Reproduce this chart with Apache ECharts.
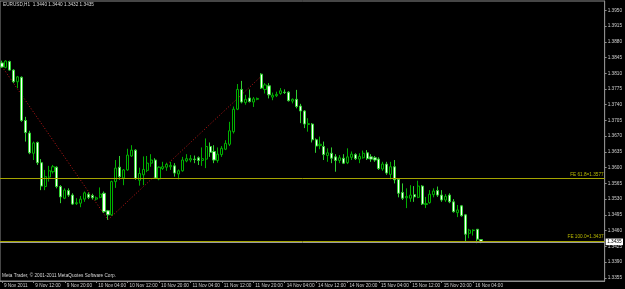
<!DOCTYPE html>
<html><head><meta charset="utf-8">
<script src="https://cdn.jsdelivr.net/npm/echarts@6/dist/echarts.min.js"></script>
<style>html,body{margin:0;padding:0;background:#000;}#c{width:625px;height:289px;}</style>
</head><body><div id="c"></div>
<script>
const titleText = 'EURUSD,H1  1.3440 1.3440 1.3432 1.3435';
const copyrightText = 'Meta Trader, \u00a9 2001-2011 MetaQuotes Software Corp.';
const tickLabels = ['9 Nov 2011','9 Nov 12:00','9 Nov 20:00','10 Nov 04:00','10 Nov 12:00','10 Nov 20:00','11 Nov 04:00','11 Nov 12:00','11 Nov 20:00','14 Nov 04:00','14 Nov 12:00','14 Nov 20:00','15 Nov 04:00','15 Nov 12:00','15 Nov 20:00','16 Nov 04:00'];
const priceTicks = [1.3950,1.3915,1.3880,1.3845,1.3810,1.3775,1.3740,1.3705,1.3670,1.3635,1.3600,1.3565,1.3530,1.3495,1.3460,1.3425,1.3390,1.3355];
const barSlots = 154;
const opens = [1.3833,1.3823,1.3836,1.3817,1.3791,1.3801,1.3705,1.3677,1.3632,1.3656,1.3611,1.3558,1.3579,1.3591,1.3601,1.3558,1.3532,1.3549,1.3539,1.3520,1.3521,1.3530,1.3541,1.3538,1.3530,1.3534,1.3543,1.3504,1.3495,1.3569,1.3601,1.3577,1.3595,1.3626,1.3639,1.3572,1.3584,1.3594,1.3610,1.3617,1.3575,1.3598,1.3601,1.3602,1.3604,1.3586,1.3593,1.3615,1.3617,1.3619,1.3622,1.3616,1.3619,1.3647,1.3636,1.3616,1.3629,1.3641,1.3652,1.3680,1.3730,1.3774,1.3745,1.3755,1.3746,1.3752,1.3808,1.3774,1.3782,1.3757,1.3760,1.3765,1.3768,1.3768,1.3748,1.3752,1.3737,1.3726,1.3696,1.3697,1.3662,1.3649,1.3647,1.3627,1.3632,1.3624,1.3616,1.3621,1.3611,1.3623,1.3629,1.3619,1.3622,1.3633,1.3624,1.3622,1.3619,1.3597,1.3608,1.3585,1.3602,1.3574,1.3545,1.3533,1.3532,1.3540,1.3534,1.3559,1.3518,1.3522,1.3540,1.3549,1.3539,1.3528,1.3539,1.3524,1.3500,1.3515,1.3495,1.3454,1.3460,1.3463,1.3440];
const highs = [1.3838,1.3839,1.3838,1.3819,1.3804,1.3803,1.3713,1.3682,1.3658,1.3658,1.3619,1.3595,1.3604,1.3606,1.3603,1.3561,1.3554,1.3554,1.3543,1.3532,1.3537,1.3547,1.3545,1.3542,1.3536,1.3556,1.3547,1.3506,1.3571,1.3617,1.3626,1.3597,1.3642,1.3650,1.3641,1.3600,1.3625,1.3626,1.3630,1.3621,1.3603,1.3613,1.3611,1.3613,1.3610,1.3596,1.3624,1.3630,1.3628,1.3627,1.3625,1.3645,1.3665,1.3656,1.3650,1.3645,1.3648,1.3661,1.3702,1.3736,1.3786,1.3793,1.3762,1.3774,1.3757,1.3756,1.3810,1.3788,1.3788,1.3767,1.3769,1.3777,1.3774,1.3770,1.3754,1.3773,1.3742,1.3728,1.3710,1.3699,1.3665,1.3669,1.3658,1.3643,1.3645,1.3630,1.3628,1.3630,1.3643,1.3636,1.3632,1.3632,1.3638,1.3639,1.3630,1.3626,1.3623,1.3613,1.3613,1.3613,1.3617,1.3576,1.3565,1.3554,1.3561,1.3559,1.3571,1.3561,1.3535,1.3550,1.3554,1.3558,1.3550,1.3541,1.3543,1.3530,1.3517,1.3517,1.3497,1.3464,1.3463,1.3463,1.3440];
const lows = [1.3822,1.3821,1.3816,1.3788,1.3777,1.3702,1.3658,1.3630,1.3617,1.3606,1.3550,1.3550,1.3569,1.3587,1.3554,1.3521,1.3530,1.3535,1.3517,1.3517,1.3512,1.3524,1.3530,1.3529,1.3527,1.3532,1.3499,1.3484,1.3493,1.3555,1.3573,1.3561,1.3593,1.3624,1.3573,1.3560,1.3561,1.3590,1.3602,1.3575,1.3572,1.3595,1.3593,1.3595,1.3580,1.3574,1.3591,1.3612,1.3612,1.3610,1.3606,1.3604,1.3599,1.3624,1.3610,1.3611,1.3624,1.3639,1.3648,1.3676,1.3728,1.3743,1.3740,1.3745,1.3735,1.3750,1.3775,1.3765,1.3754,1.3750,1.3757,1.3762,1.3764,1.3747,1.3743,1.3732,1.3699,1.3688,1.3680,1.3656,1.3633,1.3641,1.3617,1.3613,1.3610,1.3591,1.3610,1.3608,1.3608,1.3617,1.3617,1.3610,1.3620,1.3617,1.3613,1.3613,1.3595,1.3593,1.3584,1.3574,1.3565,1.3534,1.3528,1.3510,1.3524,1.3524,1.3532,1.3517,1.3510,1.3520,1.3534,1.3535,1.3524,1.3524,1.3521,1.3500,1.3490,1.3491,1.3435,1.3443,1.3449,1.3432,1.3432];
const closes = [1.3824,1.3837,1.3817,1.3791,1.3802,1.3705,1.3678,1.3633,1.3655,1.3611,1.3559,1.3580,1.3593,1.3602,1.3558,1.3535,1.3550,1.3539,1.3519,1.3522,1.3530,1.3544,1.3534,1.3533,1.3533,1.3541,1.3502,1.3495,1.3569,1.3599,1.3580,1.3595,1.3628,1.3639,1.3576,1.3587,1.3596,1.3610,1.3617,1.3577,1.3601,1.3602,1.3607,1.3605,1.3588,1.3593,1.3617,1.3620,1.3620,1.3618,1.3616,1.3620,1.3647,1.3634,1.3617,1.3630,1.3643,1.3654,1.3682,1.3730,1.3774,1.3746,1.3752,1.3747,1.3753,1.3754,1.3777,1.3784,1.3762,1.3761,1.3763,1.3771,1.3767,1.3749,1.3752,1.3736,1.3726,1.3697,1.3698,1.3662,1.3648,1.3652,1.3629,1.3633,1.3621,1.3616,1.3622,1.3610,1.3624,1.3630,1.3620,1.3625,1.3632,1.3620,1.3619,1.3617,1.3598,1.3608,1.3588,1.3602,1.3573,1.3543,1.3532,1.3536,1.3539,1.3535,1.3559,1.3519,1.3520,1.3541,1.3548,1.3539,1.3528,1.3536,1.3524,1.3502,1.3506,1.3493,1.3452,1.3461,1.3461,1.3441,1.3435];
// Fibonacci expansion anchor points [bar index, price] as seen
const fiboPoints = [[0,1.3825],[27,1.3484],[66,1.3803]];
const fe618 = 1.3577, fe1000 = 1.3437, bid = 1.3435;

const cats = [];
for (let i = 0; i < barSlots; i++) cats.push(String(i));
const candles = opens.map((o, i) => [o, closes[i], lows[i], highs[i]]);
const FONT = 'Liberation Sans';
const FS = 4.7;

const chart = echarts.init(document.getElementById('c'), null, {renderer: 'canvas'});
chart.setOption({
  animation: false,
  backgroundColor: '#000000',
  grid: {left: 0, right: 19, top: 1, bottom: 8, show: true, borderColor: '#8c8c8c', borderWidth: 1, backgroundColor: '#000000'},
  xAxis: {
    type: 'category', data: cats, boundaryGap: true,
    axisLine: {show: true, lineStyle: {color: '#8c8c8c', width: 1}},
    axisTick: {show: true, alignWithLabel: true, length: 2, interval: (i) => i % 8 === 0 && i / 8 < tickLabels.length, lineStyle: {color: '#8c8c8c'}},
    axisLabel: {show: true, interval: (i) => i % 8 === 0 && i / 8 < tickLabels.length, formatter: (v, i) => tickLabels[i / 8] || '', align: 'left', margin: 2, padding: [0,0,0,2], color: '#d0d0d0', fontSize: FS, fontFamily: FONT},
    splitLine: {show: false}
  },
  yAxis: {
    type: 'value', position: 'right', min: 1.33479, max: 1.39707, scale: true,
    axisLine: {show: true, lineStyle: {color: '#8c8c8c', width: 1}},
    axisTick: {show: true, length: 2, customValues: priceTicks, lineStyle: {color: '#8c8c8c'}},
    axisLabel: {show: true, customValues: priceTicks, formatter: (v) => v.toFixed(4), margin: 3, color: '#d0d0d0', fontSize: FS, fontFamily: FONT},
    splitLine: {show: false}
  },
  graphic: [
    {type: 'text', left: 3, top: 2.6, style: {text: titleText, fill: '#d8d8d8', font: FS + 'px "' + FONT + '"'}},
    {type: 'text', left: 2, top: 272.8, style: {text: copyrightText, fill: '#d8d8d8', font: FS + 'px "' + FONT + '"'}}
  ],
  series: [
    {
      type: 'candlestick', data: candles, barWidth: 2.6, z: 3,
      itemStyle: {color: '#000000', borderColor: '#00b000', color0: '#ffffff', borderColor0: '#30d030', borderWidth: 1}
    },
    {
      type: 'line', data: fiboPoints, showSymbol: false, symbol: 'none', silent: true, z: 2,
      lineStyle: {color: '#c01818', type: [1, 2], width: 1},
      markLine: {
        silent: true, symbol: ['none', 'none'], animation: false, precision: 4,
        data: [
          {yAxis: fe1000, lineStyle: {color: '#a4a400', type: 'solid', width: 1},
           label: {show: true, position: 'insideEndTop', formatter: 'FE 100.0=' + fe1000.toFixed(4), distance: [1, 1.5], color: '#b8b800', fontSize: FS, fontFamily: FONT}},
          {yAxis: bid, lineStyle: {color: '#9a9a9a', type: 'solid', width: 1},
           label: {show: true, position: 'end', formatter: bid.toFixed(4), distance: 1, backgroundColor: '#ffffff', color: '#000000', padding: [0.8, 1.5], fontSize: FS, fontFamily: FONT}},
          {yAxis: fe618, lineStyle: {color: '#a4a400', type: 'solid', width: 1},
           label: {show: true, position: 'insideEndTop', formatter: 'FE 61.8=' + fe618.toFixed(4), distance: [1, 1], color: '#b8b800', fontSize: FS, fontFamily: FONT}}
        ]
      }
    }
  ]
});
</script></body></html>
